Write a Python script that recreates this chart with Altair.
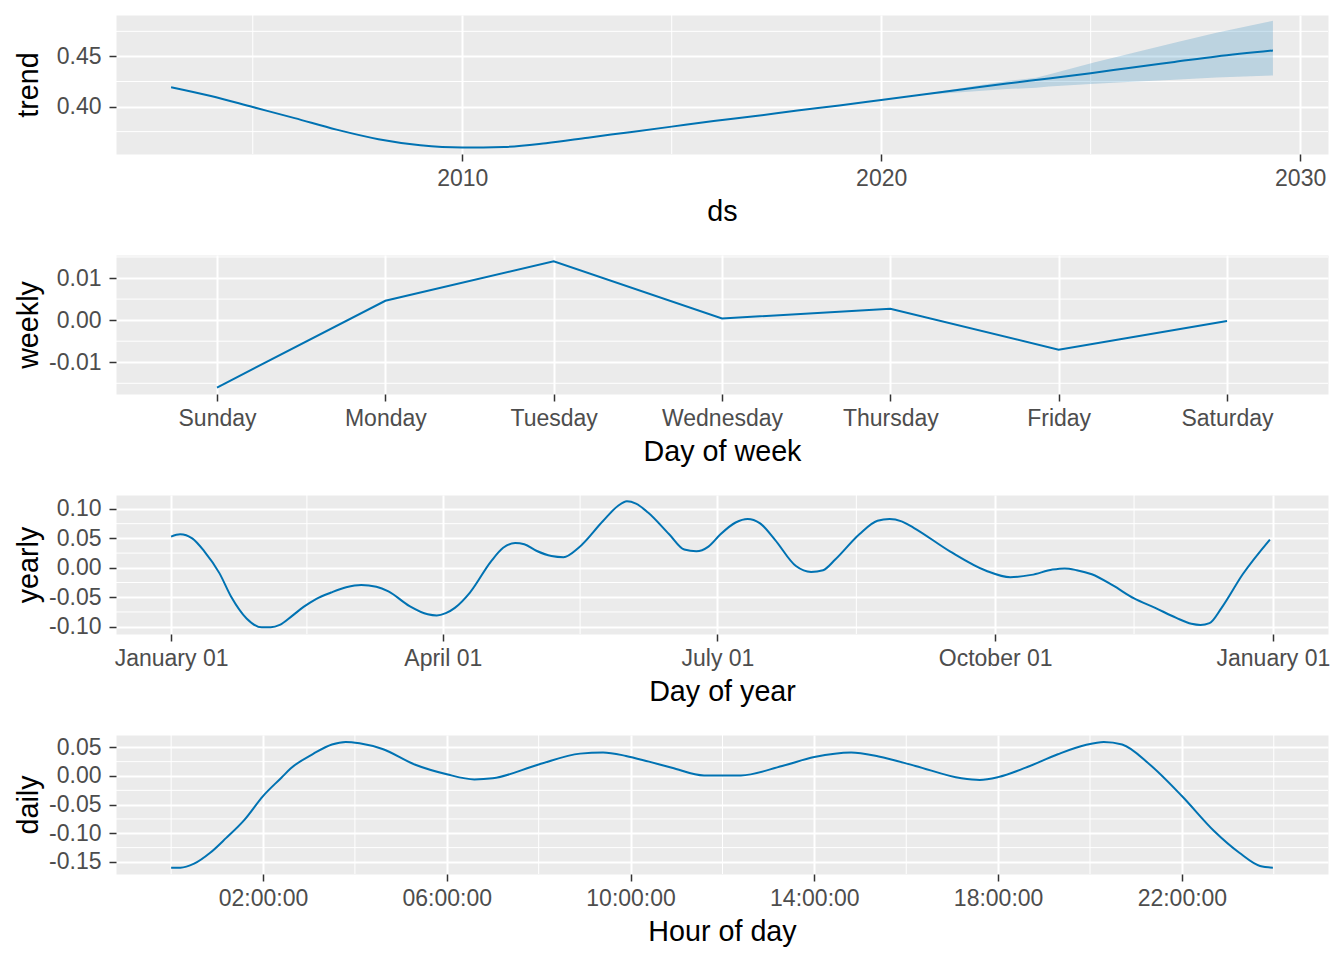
import altair as alt
import pandas as pd

BLUE = "#0072B2"
FONT = "Liberation Sans"
W = 1212
H = 139

# ---------------- trend ----------------
trend_years = [2003.05, 2004, 2005, 2006, 2007, 2008, 2009, 2010, 2011, 2012, 2013, 2014,
               2015, 2016, 2017, 2018, 2019, 2020, 2021, 2022, 2023, 2024, 2025, 2026,
               2027, 2028, 2029.35]
trend_values = [0.4193, 0.4105, 0.3995, 0.3885, 0.3770, 0.3675, 0.3615, 0.3593, 0.3598,
                0.3635, 0.3690, 0.3745, 0.3800, 0.3855, 0.3905, 0.3960, 0.4010, 0.4065,
                0.4120, 0.4175, 0.4230, 0.4280, 0.4333, 0.4390, 0.4445, 0.4500, 0.4560]
band_years = [2020.8, 2022, 2023, 2023.7, 2024, 2025.1, 2026, 2027, 2028, 2029.35]
band_lower = [0.4110, 0.4145, 0.4175, 0.4187, 0.4200, 0.4227, 0.4247, 0.4267, 0.4290, 0.4310]
band_upper = [0.4110, 0.4190, 0.4255, 0.4287, 0.4320, 0.4443, 0.4534, 0.4636, 0.4737, 0.4855]
trend_x_ticks = [2010, 2020, 2030]
trend_x_minor = [2005, 2015, 2025]
trend_y_ticks = [0.40, 0.45]
trend_y_minor = [0.375, 0.425, 0.475]
trend_x_domain = [2001.735, 2030.665]
trend_y_domain = [0.3527, 0.4913]

# ---------------- weekly ----------------
week_days = ["Sunday", "Monday", "Tuesday", "Wednesday", "Thursday", "Friday", "Saturday"]
weekly_values = [-0.0160, 0.0046, 0.0140, 0.0004, 0.0027, -0.0070, -0.0002]
weekly_y_ticks = [-0.01, 0.0, 0.01]
weekly_y_minor = [-0.015, -0.005, 0.005, 0.015]
weekly_y_domain = [-0.01754, 0.01547]

# ---------------- yearly ----------------
yearly_days = [0, 3, 7, 11, 16, 20, 25, 30, 33, 36, 40, 44, 48, 53, 58, 63, 68, 72, 79, 85,
               88, 91, 94, 99, 106, 110, 114, 117, 121, 126, 130, 135, 143, 148, 151, 154,
               158, 165, 170, 174, 178, 182, 187, 191, 195, 200, 207, 212, 216, 220, 228,
               234, 238, 242, 246, 258, 270, 278, 285, 292, 296, 300, 305, 312, 319, 326,
               333, 338, 341, 344, 348, 355, 364]
yearly_values = [0.053, 0.057, 0.050, 0.028, -0.009, -0.050, -0.086, -0.101, -0.101, -0.097,
                 -0.082, -0.066, -0.053, -0.042, -0.033, -0.029, -0.032, -0.040, -0.065,
                 -0.079, -0.081, -0.077, -0.068, -0.042, 0.011, 0.034, 0.042, 0.040, 0.029,
                 0.020, 0.018, 0.034, 0.079, 0.105, 0.113, 0.109, 0.094, 0.057, 0.031, 0.028,
                 0.036, 0.057, 0.077, 0.083, 0.076, 0.048, 0.003, -0.007, -0.004, 0.014,
                 0.057, 0.080, 0.083, 0.079, 0.068, 0.028, -0.005, -0.016, -0.012, -0.003,
                 -0.001, -0.004, -0.011, -0.030, -0.052, -0.068, -0.085, -0.095, -0.097,
                 -0.094, -0.068, -0.011, 0.048]
yearly_tick_days = [0, 90, 181, 273, 365]
yearly_tick_labels = ["January 01", "April 01", "July 01", "October 01", "January 01"]
yearly_x_minor = [45, 135.5, 227, 319]
yearly_y_ticks = [-0.10, -0.05, 0.0, 0.05, 0.10]
yearly_y_minor = [-0.075, -0.025, 0.025, 0.075]
yearly_x_domain = [-18.25, 383.25]
yearly_y_domain = [-0.1124, 0.1237]

# ---------------- daily ----------------
daily_hours = [0, 0.2, 0.5, 0.85, 1.2, 1.6, 2.0, 2.4, 2.6, 3.1, 3.5, 3.8, 4.1, 4.6, 5.3, 6.0,
               6.6, 7.0, 8.0, 8.9, 9.4, 9.9, 10.4, 10.9, 11.6, 12.4, 13.3, 14.0, 14.8, 15.4,
               16.2, 17.2, 17.6, 18.0, 18.6, 19.3, 19.9, 20.3, 20.7, 21.3, 22.0, 22.7, 23.25,
               23.7, 23.98]
daily_values = [-0.160, -0.160, -0.153, -0.134, -0.108, -0.076, -0.035, -0.003, 0.013, 0.039,
                0.055, 0.0595, 0.057, 0.047, 0.020, 0.003, -0.006, -0.004, 0.020, 0.039, 0.041,
                0.035, 0.025, 0.0145, 0.001, 0.001, 0.0175, 0.033, 0.041, 0.034, 0.0175,
                -0.004, -0.007, -0.002, 0.0145, 0.038, 0.054, 0.0594, 0.055, 0.020, -0.035,
                -0.096, -0.134, -0.157, -0.160]
daily_tick_hours = [2, 6, 10, 14, 18, 22]
daily_tick_labels = ["02:00:00", "06:00:00", "10:00:00", "14:00:00", "18:00:00", "22:00:00"]
daily_x_minor = [0, 4, 8, 12, 16, 20, 24]
daily_y_ticks = [-0.15, -0.10, -0.05, 0.0, 0.05]
daily_y_minor = [-0.125, -0.075, -0.025, 0.025]
daily_x_domain = [-1.2, 25.18]
daily_y_domain = [-0.171, 0.0715]

MINUS = "\u2212"
Y_LABEL_EXPR = "replace(format(datum.value, '.2f'), '" + MINUS + "', '-')"


def label_expr(values, labels):
    expr = "''"
    for v, lab in reversed(list(zip(values, labels))):
        expr = "abs(datum.value - %s) < 0.001 ? '%s' : (%s)" % (v, lab, expr)
    return expr


def qscale(dom):
    return alt.Scale(domain=dom, zero=False, nice=False)


def make_panel(xaxis, yaxis, xdom, ydom, xminor, yminor, main_layers):
    layers = []
    if yminor:
        layers.append(
            alt.Chart(pd.DataFrame({"v": yminor})).mark_rule(color="white", strokeWidth=1)
            .encode(y=alt.Y("v:Q", scale=qscale(ydom), axis=yaxis))
        )
    if xminor:
        layers.append(
            alt.Chart(pd.DataFrame({"v": xminor})).mark_rule(color="white", strokeWidth=1)
            .encode(x=alt.X("v:Q", scale=qscale(xdom), axis=xaxis))
        )
    layers.extend(main_layers)
    return alt.layer(*layers).properties(width=W, height=H)


# ---- panel 1: trend
trend_df = pd.DataFrame({"ds": trend_years, "trend": trend_values})
band_df = pd.DataFrame({"ds": band_years, "lower": band_lower, "upper": band_upper})
ax1x = alt.Axis(title="ds", values=trend_x_ticks, format="d")
ax1y = alt.Axis(title="trend", values=trend_y_ticks, labelExpr=Y_LABEL_EXPR)
p1 = make_panel(ax1x, ax1y, trend_x_domain, trend_y_domain, trend_x_minor, trend_y_minor, [
    alt.Chart(band_df).mark_area(color=BLUE, opacity=0.2).encode(
        x=alt.X("ds:Q", scale=qscale(trend_x_domain), axis=ax1x),
        y=alt.Y("lower:Q", scale=qscale(trend_y_domain), axis=ax1y),
        y2="upper:Q",
    ),
    alt.Chart(trend_df).mark_line(color=BLUE, strokeWidth=2, interpolate="monotone").encode(
        x=alt.X("ds:Q", scale=qscale(trend_x_domain), axis=ax1x),
        y=alt.Y("trend:Q", scale=qscale(trend_y_domain), axis=ax1y),
    ),
])

# ---- panel 2: weekly
weekly_df = pd.DataFrame({"day": week_days, "weekly": weekly_values})
ax2y = alt.Axis(title="weekly", values=weekly_y_ticks, labelExpr=Y_LABEL_EXPR)
p2 = make_panel(None, ax2y, None, weekly_y_domain, None, weekly_y_minor, [
    alt.Chart(weekly_df).mark_line(color=BLUE, strokeWidth=2).encode(
        x=alt.X("day:N", sort=week_days, scale=alt.Scale(type="point", padding=0.6),
                axis=alt.Axis(title="Day of week", labelAngle=0)),
        y=alt.Y("weekly:Q", scale=qscale(weekly_y_domain), axis=ax2y),
    ),
])

# ---- panel 3: yearly
yearly_df = pd.DataFrame({"doy": yearly_days, "yearly": yearly_values})
ax3x = alt.Axis(title="Day of year", values=yearly_tick_days,
                labelExpr=label_expr(yearly_tick_days, yearly_tick_labels))
ax3y = alt.Axis(title="yearly", values=yearly_y_ticks, labelExpr=Y_LABEL_EXPR)
p3 = make_panel(ax3x, ax3y, yearly_x_domain, yearly_y_domain, yearly_x_minor, yearly_y_minor, [
    alt.Chart(yearly_df).mark_line(color=BLUE, strokeWidth=2, interpolate="monotone").encode(
        x=alt.X("doy:Q", scale=qscale(yearly_x_domain), axis=ax3x),
        y=alt.Y("yearly:Q", scale=qscale(yearly_y_domain), axis=ax3y),
    ),
])

# ---- panel 4: daily
daily_df = pd.DataFrame({"hour": daily_hours, "daily": daily_values})
ax4x = alt.Axis(title="Hour of day", values=daily_tick_hours,
                labelExpr=label_expr(daily_tick_hours, daily_tick_labels))
ax4y = alt.Axis(title="daily", values=daily_y_ticks, labelExpr=Y_LABEL_EXPR)
p4 = make_panel(ax4x, ax4y, daily_x_domain, daily_y_domain, daily_x_minor, daily_y_minor, [
    alt.Chart(daily_df).mark_line(color=BLUE, strokeWidth=2, interpolate="monotone").encode(
        x=alt.X("hour:Q", scale=qscale(daily_x_domain), axis=ax4x),
        y=alt.Y("daily:Q", scale=qscale(daily_y_domain), axis=ax4y),
    ),
])

chart = alt.vconcat(p1, p2, p3, p4, spacing=101, bounds="flush").properties(
    padding={"left": 5, "top": 6, "right": 0, "bottom": 0}
).configure_view(
    fill="#EBEBEB", stroke="transparent"
).configure_axis(
    grid=True, gridColor="white", gridWidth=2, gridOpacity=1,
    domain=False, ticks=True, tickSize=7, tickColor="#333333", tickWidth=1.5,
    labelFont=FONT, labelFontSize=23, labelColor="#4D4D4D",
    labelOverlap=False, labelFlush=False,
    titleFont=FONT, titleFontSize=28.7, titleColor="black", titleFontWeight="normal",
).configure_axisX(
    labelPadding=6, titleBaseline="alphabetic", titleY=66, titleX=W / 2, titleAlign="center",
).configure_axisY(
    labelPadding=8, titleBaseline="alphabetic", titleX=-79, titleY=H / 2, titleAlign="center",
    titleAngle=270,
)

chart.save("out.html", embed_options={"renderer": "svg", "actions": False})
